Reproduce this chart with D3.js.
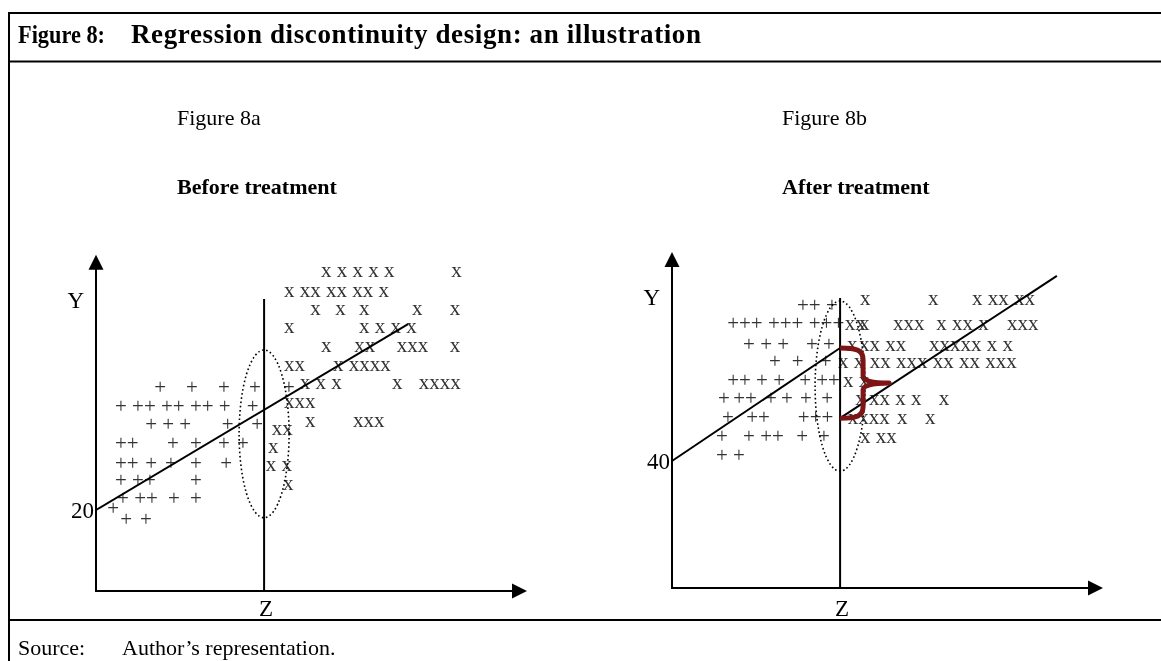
<!DOCTYPE html>
<html lang="en">
<head>
<meta charset="UTF-8">
<title>Regression discontinuity design: an illustration</title>
<script src="https://d3js.org/d3.v7.min.js"></script>
<style>
  body { margin: 0; background: #fff; }
  #chart { will-change: transform; }
  svg text { font-family: "Liberation Serif", "Times New Roman", serif; }
</style>
</head>
<body>
<svg id="chart" width="1161" height="661"></svg>
<script>
// cut-off point on the Z axis (same in both panels)
const cutoffZ = 39;

// Figure 8a: before treatment.  [z, y, glyphs]
const beforePlus = [
  [13.5, 49.9, "+"], [20.9, 49.9, "+"], [28.3, 49.9, "+"], [35.5, 49.9, "+"], [43.4, 49.9, "+"],
  [4.4, 45.2, "+ ++ ++ ++ +"], [35.0, 45.2, "+"],
  [11.4, 40.7, "+ + +"], [29.2, 40.7, "+"], [36.0, 40.7, "+"],
  [4.4, 36.0, "++"], [16.5, 36.0, "+"], [21.8, 36.0, "+"], [28.3, 36.0, "+"], [32.7, 36.0, "+"],
  [4.4, 31.1, "++"], [11.4, 31.1, "+"], [16.0, 31.1, "+"], [21.8, 31.1, "+"], [28.8, 31.1, "+"],
  [4.4, 26.9, "+ ++"], [21.8, 26.9, "+"],
  [4.9, 22.5, "+ ++"], [16.7, 22.5, "+"], [21.8, 22.5, "+"],
  [2.6, 20.0, "+"],
  [5.6, 17.3, "+"], [10.2, 17.3, "+"]
];
const beforeCross = [
  [52.2, 78.8, "x x x x x"], [82.4, 78.8, "x"],
  [43.6, 73.8, "x xx xx xx x"],
  [49.7, 69.4, "x"], [55.5, 69.4, "x"], [61.0, 69.4, "x"], [73.3, 69.4, "x"], [82.1, 69.4, "x"],
  [43.6, 64.9, "x"], [61.0, 64.9, "x x x x"],
  [52.2, 60.2, "x"], [59.9, 60.2, "xx"], [69.8, 60.2, "xxx"], [82.1, 60.2, "x"],
  [43.6, 55.6, "xx"], [55.0, 55.6, "x xxxx"],
  [47.3, 51.1, "x x x"], [68.7, 51.1, "x"], [74.9, 51.1, "xxxx"],
  [43.6, 46.4, "xxx"],
  [48.5, 41.7, "x"], [59.6, 41.7, "xxx"],
  [40.8, 39.8, "xx"],
  [39.9, 35.3, "x"],
  [39.4, 30.9, "x x"],
  [43.4, 26.2, "x"]
];
const beforeLine = [[0, 20], [72.4, 65.9]];

// Figure 8b: after treatment
const afterPlus = [
  [29.0, 88.5, "++ +"],
  [12.8, 82.8, "+++ +++ +++"],
  [16.5, 76.2, "+ + +"], [31.1, 76.2, "+ +"],
  [22.5, 70.9, "+"], [27.8, 70.9, "+"], [34.3, 70.9, "+"],
  [12.8, 64.9, "++ + +"], [29.5, 64.9, "+ ++"],
  [10.7, 59.2, "+"], [14.2, 59.2, "++"], [21.6, 59.2, "+"], [25.3, 59.2, "+"], [29.7, 59.2, "+"], [34.6, 59.2, "+"],
  [11.6, 53.2, "+"], [17.2, 53.2, "++"], [29.2, 53.2, "+++"],
  [10.2, 47.2, "+"], [16.5, 47.2, "+ ++"], [28.8, 47.2, "+"], [33.9, 47.2, "+"],
  [10.2, 41.3, "+ +"]
];
const afterCross = [
  [43.6, 90.7, "x"], [59.4, 90.7, "x"], [69.6, 90.7, "x xx xx"],
  [40.1, 82.8, "xx"], [43.4, 82.8, "x"], [51.3, 82.8, "xxx"], [61.3, 82.8, "x xx x"], [77.7, 82.8, "xxx"],
  [40.6, 76.2, "x"], [43.4, 76.2, "xx xx"], [59.6, 76.2, "xxxxx x x"],
  [38.5, 70.9, "x x"], [45.9, 70.9, "xx xxx xx xx xxx"],
  [39.7, 64.9, "x x"],
  [42.5, 59.2, "x"], [45.7, 59.2, "xx x x"], [61.9, 59.2, "x"],
  [40.8, 53.2, "xxxx"], [52.2, 53.2, "x"], [58.7, 53.2, "x"],
  [43.6, 47.2, "x xx"]
];
const afterLineLeft = [[0, 40], [39, 75.6]];
const afterLineRight = [[39, 53.5], [89.3, 98.3]];

const yTickBefore = [20];
const yTickAfter = [40];

const svg = d3.select("#chart");
const red = "#7d1517";

// table frame
[13, 61.5, 620].forEach(yy => {
  svg.append("line").attr("x1", 9).attr("x2", 1161).attr("y1", yy).attr("y2", yy)
    .attr("stroke", "#000").attr("stroke-width", 2);
});
svg.append("line").attr("x1", 9).attr("x2", 9).attr("y1", 12).attr("y2", 661)
  .attr("stroke", "#000").attr("stroke-width", 2);

svg.append("text").attr("x", 18).attr("y", 43).text("Figure 8:")
  .attr("font-size", 25).attr("font-weight", "bold")
  .attr("textLength", 87).attr("lengthAdjust", "spacingAndGlyphs");
svg.append("text").attr("x", 131).attr("y", 43).text("Regression discontinuity design: an illustration")
  .attr("font-size", 27).attr("font-weight", "bold")
  .attr("textLength", 570).attr("lengthAdjust", "spacing");
svg.append("text").attr("x", 18).attr("y", 655).text("Source:").attr("font-size", 22);
svg.append("text").attr("x", 122).attr("y", 655).text("Author\u2019s representation.").attr("font-size", 22);

function arrow(g, tx, ty, dir) {
  const pts = dir === "up"
    ? [[tx, ty], [tx - 7.5, ty + 15], [tx + 7.5, ty + 15]]
    : [[tx, ty], [tx - 15, ty - 7.5], [tx - 15, ty + 7.5]];
  g.append("polygon").attr("points", pts.map(p => p.join(",")).join(" ")).attr("fill", "#000");
}

function drawPanel(p) {
  const x = p.x, y = p.y;
  const g = svg.append("g");

  g.append("text").attr("x", p.textX).attr("y", 125).text(p.name).attr("font-size", 22);
  g.append("text").attr("x", p.textX).attr("y", 194).text(p.title)
    .attr("font-size", 22).attr("font-weight", "bold");

  // scatter of + (untreated) and x (treated)
  const marks = g.append("g");
  marks.selectAll(".plus").data(p.plus).enter().append("text")
    .attr("class", "plus")
    .attr("x", d => x(d[0])).attr("y", d => y(d[1])).attr("dy", 5)
    .attr("font-size", 21).attr("fill", "#333")
    .style("white-space", "pre")
    .text(d => d[2]);
  marks.selectAll(".cross").data(p.cross).enter().append("text")
    .attr("class", "cross")
    .attr("x", d => x(d[0])).attr("y", d => y(d[1])).attr("dy", 5)
    .attr("font-size", 21).attr("fill", "#333")
    .style("white-space", "pre")
    .text(d => d[2]);

  // axes with arrow heads
  g.append("line").attr("x1", x(0)).attr("x2", x(0)).attr("y1", y(0) + 1).attr("y2", y(p.yTop) + 12)
    .attr("stroke", "#000").attr("stroke-width", 2);
  arrow(g, x(0), y(p.yTop), "up");
  g.append("line").attr("x1", x(0) - 1).attr("x2", x(100) - 12).attr("y1", y(0)).attr("y2", y(0))
    .attr("stroke", "#000").attr("stroke-width", 2);
  arrow(g, x(100), y(0), "right");

  // cut-off
  g.append("line").attr("x1", x(cutoffZ)).attr("x2", x(cutoffZ)).attr("y1", y(0)).attr("y2", y(p.cutTop))
    .attr("stroke", "#000").attr("stroke-width", 2);

  // regression lines
  const line = d3.line().x(d => x(d[0])).y(d => y(d[1]));
  p.lines.forEach(l => {
    g.append("path").attr("d", line(l)).attr("fill", "none")
      .attr("stroke", "#000").attr("stroke-width", 2);
  });

  // dotted oval around the cut-off
  g.append("ellipse")
    .attr("cx", x(cutoffZ)).attr("cy", y(p.oval[0]))
    .attr("rx", x(p.oval[1]) - x(0)).attr("ry", y(0) - y(p.oval[2]))
    .attr("fill", "none").attr("stroke", "#000").attr("stroke-width", 1.6)
    .attr("stroke-dasharray", "1.6,2.6");

  // labels
  g.append("text").attr("x", x(0) - 12).attr("y", y(p.yTop) + 53).attr("text-anchor", "end")
    .attr("font-size", 23).text("Y");
  g.selectAll(".tick").data(p.ticks).enter().append("text")
    .attr("x", x(0) - 2).attr("y", d => y(d)).attr("dy", 8).attr("text-anchor", "end")
    .attr("font-size", 23).text(d => d);
  g.append("text").attr("x", x(cutoffZ) + 2).attr("y", 616).attr("text-anchor", "middle")
    .attr("font-size", 23).text("Z");

  if (p.brace) {
    const bx = x(cutoffZ), top = y(p.brace[0]), bot = y(p.brace[1]), mid = (top + bot) / 2;
    const path = d3.path();
    path.moveTo(bx, top);
    path.bezierCurveTo(bx + 17, top, bx + 23, top + 2, bx + 23, top + 12);
    path.lineTo(bx + 23, mid - 7);
    path.quadraticCurveTo(bx + 23, mid, bx + 49, mid);
    path.quadraticCurveTo(bx + 23, mid, bx + 23, mid + 7);
    path.lineTo(bx + 23, bot - 12);
    path.bezierCurveTo(bx + 23, bot - 2, bx + 17, bot, bx, bot);
    g.append("path").attr("d", path.toString()).attr("fill", "none")
      .attr("stroke", red).attr("stroke-width", 5).attr("stroke-linejoin", "round");
  }
}

drawPanel({
  x: d3.scaleLinear().domain([0, 100]).range([96, 527]),
  y: d3.scaleLinear().domain([0, 100]).range([591, 186]),
  textX: 177, name: "Figure 8a", title: "Before treatment",
  plus: beforePlus, cross: beforeCross, lines: [beforeLine],
  ticks: yTickBefore, yTop: 83, cutTop: 72.1, oval: [38.8, 5.8, 20.7]
});

drawPanel({
  x: d3.scaleLinear().domain([0, 100]).range([672, 1103]),
  y: d3.scaleLinear().domain([0, 100]).range([588, 270.5]),
  textX: 782, name: "Figure 8b", title: "After treatment",
  plus: afterPlus, cross: afterCross, lines: [afterLineLeft, afterLineRight],
  ticks: yTickAfter, yTop: 105.8, cutTop: 91.3, oval: [63.6, 5.8, 26.8],
  brace: [afterLineLeft[1][1], afterLineRight[0][1]]
});
</script>
</body>
</html>
